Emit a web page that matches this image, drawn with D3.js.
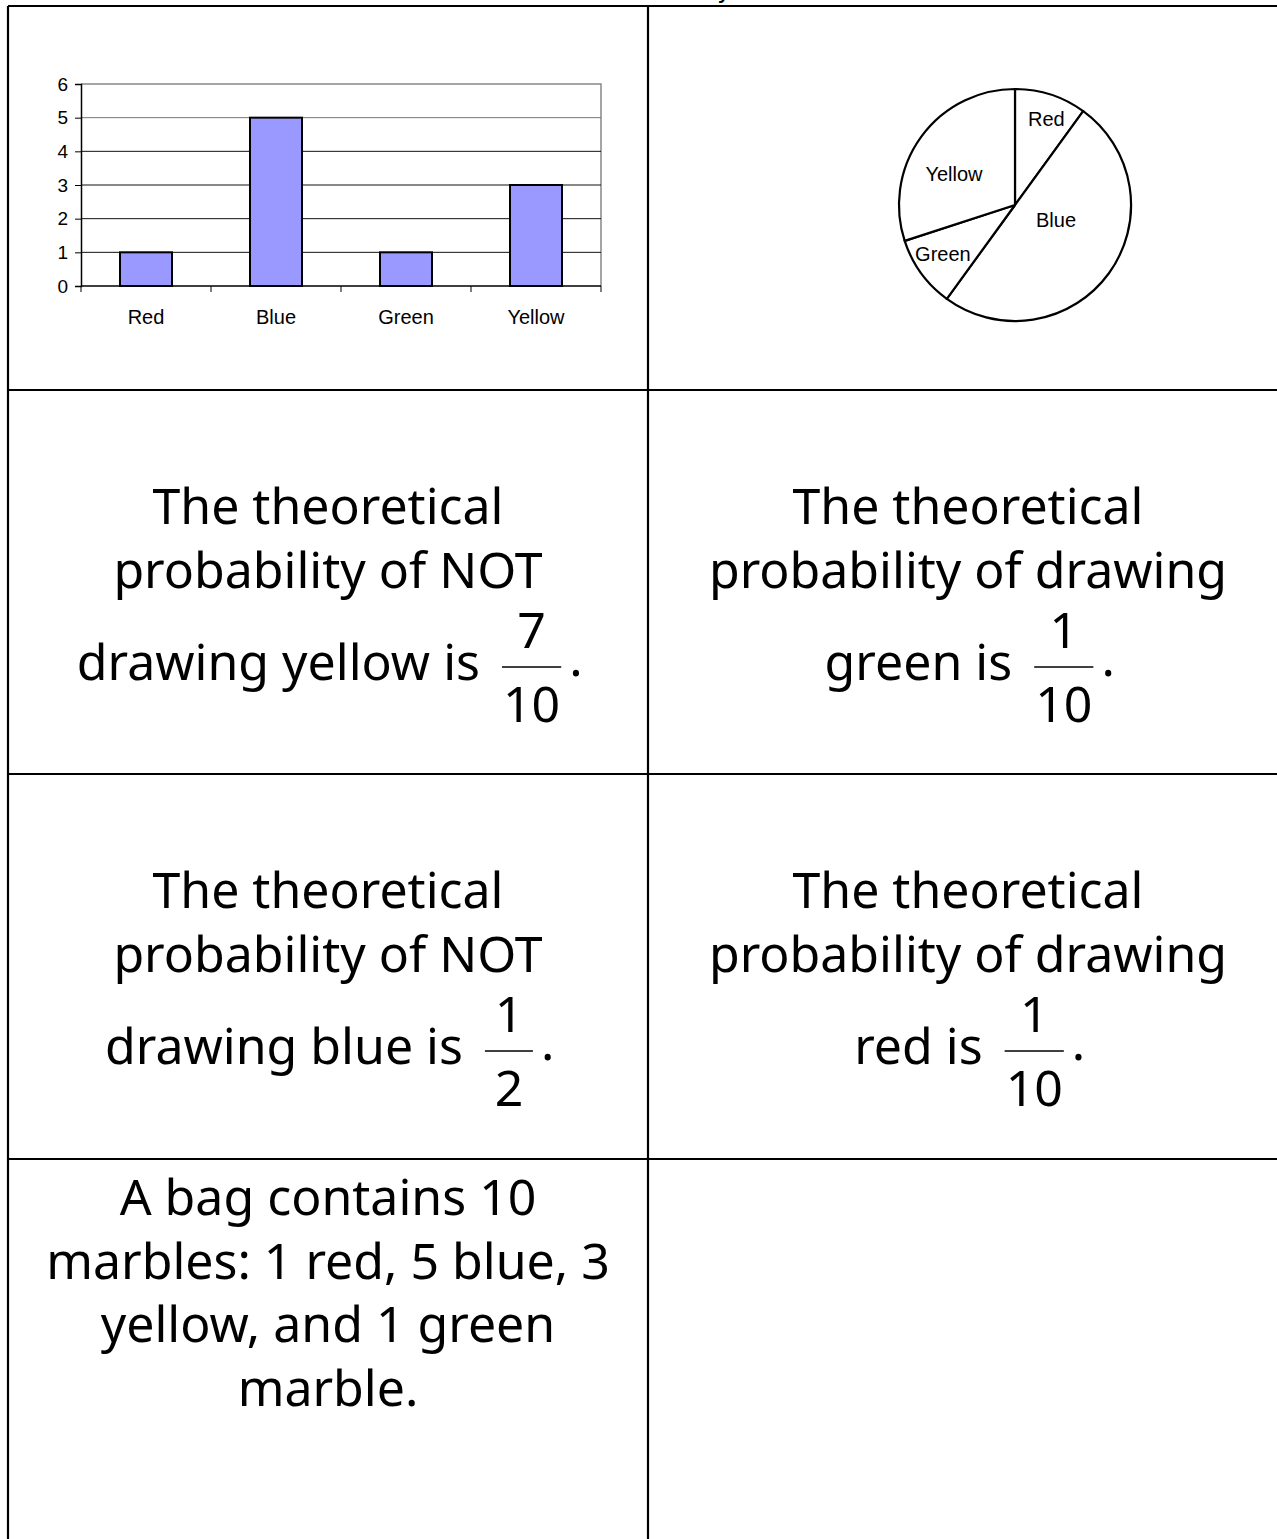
<!DOCTYPE html>
<html>
<head>
<meta charset="utf-8">
<script src="https://cdn.jsdelivr.net/npm/d3@7"></script>
<style>
  html, body { margin: 0; padding: 0; background: #fff; }
  svg { display: block; }
</style>
</head>
<body>
<svg id="page" width="1277" height="1539"></svg>
<script>
// Marble counts in the bag
const categories = ["Red", "Blue", "Green", "Yellow"];
const counts = [1, 5, 1, 3];
const yTicks = [0, 1, 2, 3, 4, 5, 6];

// Card statements: plain lines, then a last line that may end in a fraction
const cards = [
  { lines: ["The theoretical", "probability of NOT"], last: "drawing yellow is", num: "7", den: "10" },
  { lines: ["The theoretical", "probability of drawing"], last: "green is", num: "1", den: "10" },
  { lines: ["The theoretical", "probability of NOT"], last: "drawing blue is", num: "1", den: "2" },
  { lines: ["The theoretical", "probability of drawing"], last: "red is", num: "1", den: "10" },
  { lines: ["A bag contains 10", "marbles: 1 red, 5 blue, 3", "yellow, and 1 green", "marble."] }
];

const svg = d3.select("#page");
const W = 1277;

// Table grid
const colX = [8, 648, 1290];
const rowY = [6, 390, 774, 1159, 1560];
const cardFont = "'Noto Sans', 'DejaVu Sans', sans-serif";
const cardSize = 50;
const chartFont = "'Liberation Sans', Arial, sans-serif";

// Heading above the table (runs off the top edge)
svg.append("text")
  .attr("x", W / 2).attr("y", -1)
  .attr("text-anchor", "middle")
  .attr("font-family", chartFont)
  .attr("font-weight", "bold").attr("font-size", 20)
  .text("Marble Match: Probability Cards");

const grid = svg.append("g").attr("stroke", "#000").attr("stroke-width", 2.2).attr("fill", "none");
rowY.slice(0, 4).forEach(y => grid.append("line").attr("x1", colX[0]).attr("x2", W).attr("y1", y).attr("y2", y));
[colX[0], colX[1]].forEach(x => grid.append("line").attr("x1", x).attr("x2", x).attr("y1", rowY[0]).attr("y2", 1539));

// ---------- Bar chart ----------
const bar = svg.append("g");
const x = d3.scaleBand().domain(categories).range([81, 601]).paddingInner(0.6).paddingOuter(0.3);
const xb = d3.scaleBand().domain(categories).range([81, 601]);
const y = d3.scaleLinear().domain([0, 6]).range([286, 84]);

// plot area frame (top and right, grey)
bar.append("path")
  .attr("d", `M81,${y(6)}H601V${y(0)}`)
  .attr("fill", "none").attr("stroke", "#888").attr("stroke-width", 1.5);

// horizontal gridlines
bar.append("g").selectAll("line").data(yTicks.filter(t => t > 0 && t < 6)).join("line")
  .attr("x1", 81).attr("x2", 601)
  .attr("y1", d => y(d)).attr("y2", d => y(d))
  .attr("stroke", d => d === 5 ? "#777" : "#111").attr("stroke-width", 1);

bar.append("g").selectAll("rect").data(counts).join("rect")
  .attr("x", (d, i) => x(categories[i]))
  .attr("y", d => y(d))
  .attr("width", x.bandwidth())
  .attr("height", d => y(0) - y(d))
  .attr("fill", "#9999FF").attr("stroke", "#000").attr("stroke-width", 2);

// y axis
const yAxis = bar.append("g").attr("transform", "translate(81,0)")
  .call(d3.axisLeft(y).tickValues(yTicks).tickSize(6).tickPadding(7).tickFormat(d3.format("d")));
yAxis.select(".domain").attr("stroke", "#000").attr("stroke-width", 1.5);
yAxis.selectAll(".tick line").attr("stroke", "#000");
yAxis.selectAll("text").attr("font-family", chartFont).attr("font-size", 19).attr("fill", "#000");

// x axis: ticks sit at category boundaries
const xAxisG = bar.append("g").attr("transform", `translate(0,${y(0)})`);
xAxisG.append("line").attr("x1", 81).attr("x2", 601).attr("stroke", "#000").attr("stroke-width", 1.5);
const bounds = categories.map(c => xb(c)).concat([xb(categories[3]) + xb.bandwidth()]);
xAxisG.selectAll("line.tk").data(bounds).join("line").attr("class", "tk")
  .attr("x1", d => d).attr("x2", d => d).attr("y1", 0).attr("y2", 6)
  .attr("stroke", "#000").attr("stroke-width", 1);
xAxisG.selectAll("text").data(categories).join("text")
  .attr("x", d => xb(d) + xb.bandwidth() / 2).attr("y", 38)
  .attr("text-anchor", "middle")
  .attr("font-family", chartFont).attr("font-size", 20)
  .text(d => d);

// ---------- Pie chart ----------
const cx = 1015, cy = 205, R = 116;
const pieG = svg.append("g").attr("transform", `translate(${cx},${cy})`);
const arcs = d3.pie().sort(null).value(d => d)(counts);
const arc = d3.arc().innerRadius(0).outerRadius(R);
pieG.selectAll("path").data(arcs).join("path")
  .attr("d", arc).attr("fill", "#fff").attr("stroke", "#000").attr("stroke-width", 2.2)
  .attr("stroke-linejoin", "round");
// label placement: distance from the centre (share of radius) and angle shift (degrees)
const labelDist = [0.79, 0.376, 0.75, 0.59];
const labelTurn = [2, -16, 2, -9];
pieG.selectAll("text").data(arcs).join("text")
  .attr("transform", (d, i) => {
    const a = (d.startAngle + d.endAngle) / 2 + labelTurn[i] * Math.PI / 180;
    const r = R * labelDist[i];
    return `translate(${r * Math.sin(a)},${-r * Math.cos(a)})`;
  })
  .attr("text-anchor", "middle").attr("dy", "0.35em")
  .attr("font-family", chartFont).attr("font-size", 20)
  .text((d, i) => categories[i]);

// ---------- Text cards ----------
const cells = [
  { col: 0, row: 1 }, { col: 1, row: 1 },
  { col: 0, row: 2 }, { col: 1, row: 2 },
  { col: 0, row: 3 }
];
const cellFirstBaseline = [134, 134, 134, 134, 56];
const lineGap = 63.5;

cards.forEach((card, k) => {
  const c = cells[k];
  const cxCell = (colX[c.col] + Math.min(colX[c.col + 1], colX[c.col] + 640)) / 2;
  const top = rowY[c.row];
  const g = svg.append("g")
    .attr("font-family", cardFont).attr("font-size", cardSize).attr("fill", "#000");
  let base = top + cellFirstBaseline[k];
  card.lines.forEach((ln, i) => {
    g.append("text").attr("x", cxCell).attr("y", base + i * lineGap)
      .attr("text-anchor", "middle").text(ln);
  });
  if (card.last) {
    const yb = base + card.lines.length * lineGap + 29;
    const t = g.append("text").attr("x", 0).attr("y", yb).text(card.last);
    const tw = t.node().getComputedTextLength();
    const n = g.append("text").attr("y", yb - 32).attr("text-anchor", "middle").text(card.num);
    const dn = g.append("text").attr("y", yb + 42).attr("text-anchor", "middle").text(card.den);
    const fw = Math.max(48, dn.node().getComputedTextLength() + 2, n.node().getComputedTextLength() + 2);
    const gap = 22, dotGap = 12;
    const total = tw + gap + fw + dotGap + 6;
    const x0 = cxCell - total / 2;
    t.attr("x", x0);
    const fx = x0 + tw + gap;
    n.attr("x", fx + fw / 2);
    dn.attr("x", fx + fw / 2);
    g.append("line").attr("x1", fx).attr("x2", fx + fw).attr("y1", yb - 13).attr("y2", yb - 13)
      .attr("stroke", "#000").attr("stroke-width", 1.5);
    g.append("text").attr("x", fx + fw + dotGap - 4).attr("y", yb - 4).text(".");
  }
});
</script>
</body>
</html>
